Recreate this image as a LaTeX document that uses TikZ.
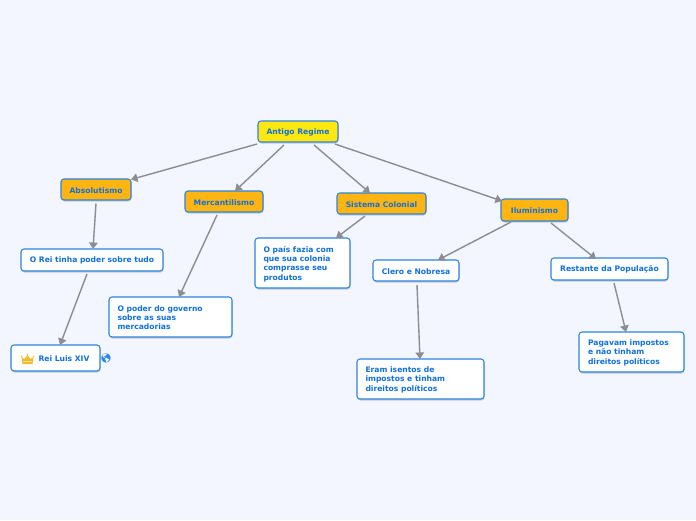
\documentclass[tikz,border=0pt]{standalone}
\usepackage{fontspec}
\setmainfont{DejaVu Sans}
\newfontfamily\emojifont{Noto Emoji}
\usetikzlibrary{calc,arrows.meta,positioning}
\definecolor{bgc}{HTML}{F3F6FF}
\definecolor{edgec}{HTML}{2A85E0}
\definecolor{textc}{HTML}{0F70DE}
\definecolor{linec}{HTML}{8C8C92}
\definecolor{rootc}{HTML}{FFE80F}
\definecolor{mainc}{HTML}{FFB511}
\definecolor{crownc}{HTML}{F5BC2A}
\tikzset{
 x=1pt,y=-1pt,
 box/.style={draw=edgec,line width=1.05pt,rounded corners=3pt,inner sep=0pt,
   font=\bfseries\fontsize{7.6}{9.35}\selectfont,text=textc,align=left,anchor=center},
 plain/.style={box,fill=white},
 rootbox/.style={box,fill=rootc},
 mainbox/.style={box,fill=mainc},
 conn/.style={draw=linec,line width=1.4pt,-{Triangle[length=6.5pt,width=8.5pt]}},
}
\newcommand{\nd}[7]{% style,name,x0,y0,x1,y1,text
  \fill[black!35,opacity=.55,rounded corners=3pt] (#3+0.5,#4+1.5) rectangle (#5+0.5,#6+1.5);
  \node[#1,minimum width=#5pt-#3pt,minimum height=#6pt-#4pt] (#2) at ({(#3+#5)/2},{(#4+#6)/2}) {\raisebox{-0.8pt}[\height][\depth]{#7}};}
\begin{document}
\begin{tikzpicture}
\useasboundingbox[fill=bgc] (0,0) rectangle (696,520);
\nd{rootbox}{root}{258}{121}{338}{142}{Antigo Regime}
\nd{mainbox}{abs}{61}{179}{131}{200}{Absolutismo}
\nd{mainbox}{merc}{185}{191}{263}{212}{Mercantilismo}
\nd{mainbox}{sist}{337}{193}{426}{214}{Sistema Colonial}
\nd{mainbox}{ilu}{501}{199}{568}{221}{Iluminismo}
\nd{plain}{rei}{21}{249}{163}{271}{O Rei tinha poder sobre tudo}
\nd{plain}{luis}{11}{345}{100}{371}{\hspace{17pt}Rei Luis XIV}
\nd{plain}{poder}{109}{297}{232}{337}{\parbox{106pt}{\raggedright O poder do governo\\sobre as suas\\mercadorias}}
\nd{plain}{pais}{255}{238}{350}{288}{\parbox{78pt}{\raggedright O país fazia com\\que sua colonia\\comprasse seu\\produtos}}
\nd{plain}{clero}{373}{260}{459}{281}{Clero e Nobresa}
\nd{plain}{rest}{551}{258}{668}{280}{Restante da População}
\nd{plain}{eram}{357}{359}{484}{399}{\parbox{110pt}{\raggedright Eram isentos de\\impostos e tinham\\direitos políticos}}
\nd{plain}{pag}{579}{332}{684}{372}{\parbox{87pt}{\raggedright Pagavam impostos\\e não tinham\\direitos políticos}}
\draw[conn] ($(root.center)+(-41,12.5)$) -- ($(abs.center)+(35,-10)$);
\draw[conn] ($(root.center)+(-14,13.5)$) -- ($(merc.center)+(11,-10.5)$);
\draw[conn] ($(root.center)+(16,13.5)$) -- ($(sist.center)+(-11.5,-10.5)$);
\draw[conn] ($(root.center)+(37,12.5)$) -- ($(ilu.center)+(-32.5,-9)$);
\draw[conn] ($(abs.center)+(0,14)$) -- ($(rei.center)+(1,-11)$);
\draw[conn] ($(rei.center)+(-5,14)$) -- ($(luis.center)+(4.5,-13)$);
\draw[conn] ($(merc.center)+(-7,13.5)$) -- ($(poder.center)+(8.5,-20)$);
\draw[conn] ($(sist.center)+(-16.5,12.5)$) -- ($(pais.center)+(33.5,-25)$);
\draw[conn] ($(ilu.center)+(-23.5,12)$) -- ($(clero.center)+(22,-10.5)$);
\draw[conn] ($(ilu.center)+(16.5,13)$) -- ($(rest.center)+(-13.5,-10)$);
\draw[conn] ($(clero.center)+(1,14.5)$) -- ($(eram.center)+(-0.5,-20)$);
\draw[conn] ($(rest.center)+(4.5,14)$) -- ($(pag.center)+(-5.5,-20)$);
\fill[crownc] (21.5,357) -- (24.5,359) -- (27.5,355) -- (30.5,359) -- (33.5,357) -- (32.5,364) -- (22.5,364) -- cycle;
\fill[crownc] (21.5,356.5) circle (0.9) (27.5,354.8) circle (0.9) (33.5,356.5) circle (0.9);
\fill[white,opacity=.5] (23,361.3) rectangle (32,362);
\node[text=edgec,font=\emojifont\fontsize{9}{9}\selectfont,inner sep=0pt] (globe) at (106,358) {🌎};
\end{tikzpicture}
\end{document}
